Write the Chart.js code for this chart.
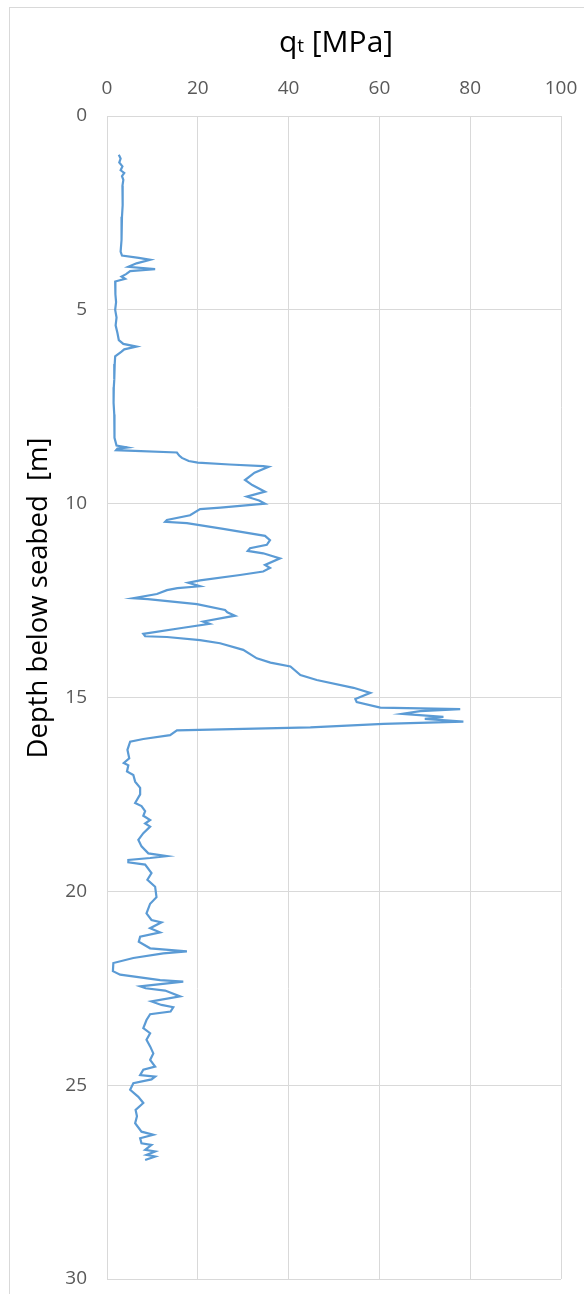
<!DOCTYPE html>
<html>
<head>
<meta charset="utf-8">
<title>CPT profile – cone resistance qt</title>
<script src="https://cdn.jsdelivr.net/npm/chart.js@4.4.1/dist/chart.umd.min.js"></script>
<style>
  html, body { margin: 0; padding: 0; background: #ffffff; }
  #wrap { width: 584px; height: 1294px; position: relative; }
</style>
</head>
<body>
<div id="wrap"><canvas id="cpt" width="584" height="1294"></canvas></div>
<script>
// Depth below seabed [m]
const depth = [
  1.00, 1.10, 1.20, 1.30, 1.40, 1.47, 1.55, 1.65, 1.80, 2.00,
  2.30, 2.60, 2.90, 3.20, 3.50, 3.60, 3.66, 3.71, 3.80, 3.89,
  3.95, 4.00, 4.08, 4.14, 4.20, 4.27, 4.40, 4.60, 4.80, 5.00,
  5.20, 5.40, 5.60, 5.78, 5.88, 5.95, 6.02, 6.08, 6.20, 6.40,
  6.60, 6.80, 7.00, 7.20, 7.40, 7.70, 8.00, 8.30, 8.50, 8.55,
  8.58, 8.62, 8.68, 8.76, 8.82, 8.90, 8.94, 8.99, 9.03, 9.05,
  9.20, 9.39, 9.52, 9.69, 9.82, 9.92, 10.00, 10.02, 10.10, 10.14,
  10.30, 10.42, 10.47, 10.50, 10.65, 10.83, 10.94, 11.06, 11.15, 11.22,
  11.28, 11.41, 11.58, 11.66, 11.75, 11.84, 11.98, 12.04, 12.13, 12.18,
  12.23, 12.33, 12.44, 12.46, 12.59, 12.74, 12.80, 12.89, 13.04, 13.10,
  13.20, 13.36, 13.42, 13.44, 13.52, 13.60, 13.77, 13.99, 14.10, 14.20,
  14.42, 14.55, 14.75, 14.88, 15.04, 15.12, 15.26, 15.30, 15.35, 15.42,
  15.50, 15.55, 15.62, 15.68, 15.77, 15.85, 15.97, 16.07, 16.14, 16.35,
  16.57, 16.69, 16.75, 16.91, 17.00, 17.17, 17.33, 17.50, 17.72, 17.80,
  17.93, 18.05, 18.16, 18.25, 18.33, 18.50, 18.67, 18.84, 19.02, 19.09,
  19.14, 19.19, 19.25, 19.31, 19.53, 19.70, 19.88, 20.15, 20.32, 20.57,
  20.74, 20.80, 20.95, 21.06, 21.17, 21.30, 21.47, 21.55, 21.60, 21.72,
  21.85, 22.06, 22.15, 22.29, 22.33, 22.45, 22.50, 22.56, 22.71, 22.84,
  22.93, 22.99, 23.10, 23.17, 23.32, 23.53, 23.66, 23.83, 24.00, 24.18,
  24.35, 24.52, 24.60, 24.74, 24.78, 24.85, 24.95, 25.12, 25.30, 25.46,
  25.64, 25.80, 25.98, 26.20, 26.28, 26.37, 26.50, 26.54, 26.67, 26.71,
  26.80, 26.84, 26.93
];

// Corrected cone resistance qt [MPa]
const qt = [
  2.6, 3.0, 2.7, 3.4, 3.0, 3.8, 3.3, 3.6, 3.4, 3.5,
  3.4, 3.3, 3.3, 3.1, 3.0, 3.3, 7.0, 9.5, 6.5, 4.7,
  10.6, 5.1, 4.2, 3.2, 4.0, 1.8, 1.9, 1.8, 2.0, 1.8,
  2.1, 1.9, 2.3, 2.6, 3.6, 6.5, 3.8, 3.2, 1.8, 1.7,
  1.6, 1.6, 1.5, 1.4, 1.5, 1.6, 1.6, 1.7, 2.1, 4.5,
  2.3, 2.0, 15.4, 15.9, 16.5, 18.0, 20.0, 27.0, 34.4, 35.6,
  32.5, 30.4, 32.0, 34.8, 30.8, 33.5, 34.8, 33.0, 25.0, 20.5,
  18.3, 13.2, 12.8, 17.6, 25.6, 34.8, 35.9, 35.2, 31.5, 31.0,
  34.4, 38.1, 34.8, 35.9, 34.4, 29.3, 20.5, 17.9, 20.5, 15.5,
  13.2, 11.0, 5.8, 9.0, 19.8, 26.0, 26.5, 28.2, 21.2, 22.6,
  16.8, 8.0, 8.4, 13.2, 20.5, 24.9, 30.0, 33.0, 36.0, 40.4,
  42.6, 46.2, 54.3, 58.0, 54.7, 55.0, 60.2, 77.8, 69.0, 65.0,
  74.1, 70.0, 78.5, 60.9, 44.8, 15.4, 13.9, 8.0, 5.1, 4.5,
  4.9, 3.7, 4.7, 4.4, 5.8, 6.2, 7.3, 7.3, 6.2, 7.6,
  8.4, 8.0, 9.5, 8.4, 9.5, 8.0, 6.9, 7.6, 9.1, 13.2,
  9.5, 4.7, 4.7, 8.4, 9.8, 8.9, 10.6, 10.9, 9.5, 8.7,
  9.8, 12.0, 9.5, 11.7, 7.3, 7.0, 9.5, 17.6, 12.4, 5.8,
  1.4, 1.3, 2.9, 11.7, 16.8, 7.3, 8.5, 12.8, 16.1, 9.8,
  12.0, 14.6, 14.0, 9.5, 8.7, 8.0, 9.5, 8.7, 9.5, 10.2,
  9.5, 10.6, 8.0, 7.3, 10.6, 9.8, 5.8, 5.1, 6.9, 8.0,
  6.3, 6.6, 6.2, 7.6, 10.2, 7.3, 7.6, 9.8, 8.4, 10.6,
  8.7, 10.6, 8.4
];

// Axis ranges and tick steps
const qtTicks = [0, 20, 40, 60, 80, 100];
const depthTicks = [0, 5, 10, 15, 20, 25, 30];

const FONT = "'Open Sans', 'Noto Sans', sans-serif";
const GRID = '#d9d9d9';
const TICK = '#595959';

// Titles and the outer chart frame
const chrome = {
  id: 'chrome',
  beforeDraw(chart) {
    const ctx = chart.ctx;
    ctx.save();
    ctx.fillStyle = '#ffffff';
    ctx.fillRect(0, 0, chart.width, chart.height);
    ctx.strokeStyle = GRID;
    ctx.lineWidth = 1;
    ctx.strokeRect(9.5, 7.5, chart.width + 20, chart.height + 20);
    ctx.restore();
  },
  afterDraw(chart) {
    const ctx = chart.ctx;
    const area = chart.chartArea;
    ctx.save();
    ctx.fillStyle = '#000000';
    ctx.textBaseline = 'alphabetic';

    // top axis title: q with a small t, then [MPa]
    const big = `30px ${FONT}`;
    const small = `19px ${FONT}`;
    const parts = [['q', big], ['t', small], [' [MPa]', big]];
    let total = 0;
    parts.forEach(([s, f]) => { ctx.font = f; total += ctx.measureText(s).width; });
    let x = (area.left + area.right) / 2 - total / 2 + 2;
    const base = 52;
    parts.forEach(([s, f]) => {
      ctx.font = f;
      ctx.textAlign = 'left';
      ctx.fillText(s, x, base);
      x += ctx.measureText(s).width;
    });

    // left axis title, rotated
    ctx.translate(39, 598);
    ctx.rotate(-Math.PI / 2);
    ctx.font = `27.5px ${FONT}`;
    ctx.textAlign = 'center';
    ctx.textBaseline = 'middle';
    ctx.fillText('Depth below seabed  [m]', 0, 0);
    ctx.restore();
  }
};

const points = depth.map((d, i) => ({ x: qt[i], y: d }));

// keep the plot frame fixed: no extra room reserved for label overhang
function fixPadding(scale) {
  scale.paddingLeft = 0;
  scale.paddingRight = 0;
  scale.paddingTop = 0;
  scale.paddingBottom = 0;
}

new Chart(document.getElementById('cpt'), {
  type: 'scatter',
  data: {
    datasets: [{
      label: 'qt',
      data: points,
      showLine: true,
      borderColor: '#5b9bd5',
      backgroundColor: '#5b9bd5',
      borderWidth: 2.2,
      pointRadius: 0,
      tension: 0
    }]
  },
  options: {
    responsive: false,
    animation: false,
    layout: { padding: { left: 0, top: 0, right: 23, bottom: 15 } },
    plugins: { legend: { display: false }, tooltip: { enabled: false } },
    scales: {
      x: {
        type: 'linear',
        position: 'top',
        min: qtTicks[0],
        max: qtTicks[qtTicks.length - 1],
        afterBuildTicks(scale) { scale.ticks = qtTicks.map(v => ({ value: v })); },
        afterFit(scale) { scale.height = 116; fixPadding(scale); },
        ticks: { color: TICK, font: { family: FONT, size: 19 }, padding: 16 },
        grid: { color: GRID, lineWidth: 1, drawTicks: false },
        border: { display: true, color: GRID }
      },
      y: {
        type: 'linear',
        reverse: true,
        min: depthTicks[0],
        max: depthTicks[depthTicks.length - 1],
        afterBuildTicks(scale) { scale.ticks = depthTicks.map(v => ({ value: v })); },
        afterFit(scale) { scale.width = 107; fixPadding(scale); },
        ticks: { color: TICK, font: { family: FONT, size: 19 }, padding: 20 },
        grid: { color: GRID, lineWidth: 1, drawTicks: false },
        border: { display: true, color: GRID }
      }
    }
  },
  plugins: [chrome]
});
</script>
</body>
</html>
